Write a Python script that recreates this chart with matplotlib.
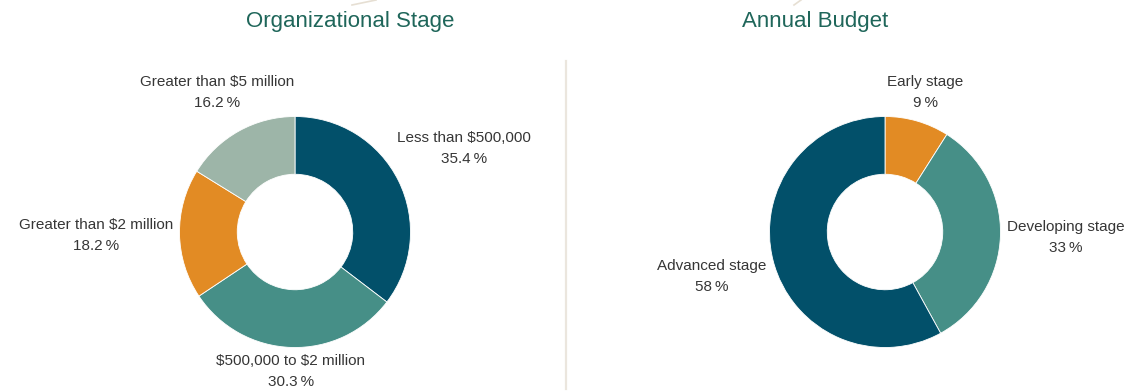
import numpy as np
import matplotlib
matplotlib.use("Agg")
import matplotlib.pyplot as plt
from matplotlib.lines import Line2D

# ---- data ----
left_title = "Organizational Stage"
left_labels = ["Less than \\$500,000", "\\$500,000 to \\$2 million",
               "Greater than \\$2 million", "Greater than \\$5 million"]
left_values = [35.4, 30.3, 18.2, 16.2]
left_pct = ["35.4\u2009%", "30.3\u2009%", "18.2\u2009%", "16.2\u2009%"]

right_title = "Annual Budget"
right_labels = ["Early stage", "Developing stage", "Advanced stage"]
right_values = [9, 33, 58]
right_pct = ["9\u2009%", "33\u2009%", "58\u2009%"]

# ---- styles ----
C_DARK = "#02506a"
C_TEAL = "#468f87"
C_ORANGE = "#e28b24"
C_GREY = "#9db5a8"
left_colors = [C_DARK, C_TEAL, C_ORANGE, C_GREY]
right_colors = [C_ORANGE, C_TEAL, C_DARK]
TITLE_C = "#1f665a"
TEXT_C = "#363636"
FONT = ["Liberation Sans", "DejaVu Sans"]

W, H = 1145, 392
R_PX = 115.5
GAP = 1.056
fig = plt.figure(figsize=(W / 100, H / 100), dpi=100)
fig.patch.set_facecolor("white")
renderer = fig.canvas.get_renderer()


def box_dist(t, dx, dy, hw, hh):
    cx, cy = abs(t * dx), abs(t * dy)
    return np.hypot(max(0.0, cx - hw), max(0.0, cy - hh))


def donut(cx, cy, values, colors, labels, pcts, title, tx):
    r = R_PX
    ax = fig.add_axes([(cx - r) / W, (H - cy - r) / H, 2 * r / W, 2 * r / H])
    total = float(sum(values))
    ax.pie(values, colors=colors, startangle=90, counterclock=False,
           radius=1.0, wedgeprops=dict(width=0.5, edgecolor="white", linewidth=0.6))
    ax.set_xlim(-1, 1)
    ax.set_ylim(-1, 1)
    ax.set_aspect("equal")
    ax.axis("off")
    cum = 0.0
    for v, lab, p in zip(values, labels, pcts):
        mid = (cum + v / 2) / total
        cum += v
        ang = 2 * np.pi * mid
        dx, dy = np.sin(ang), np.cos(ang)
        t = ax.text(0, 0, f"{lab}\n{p}", ha="center", va="center",
                    multialignment="center", fontsize=11, color=TEXT_C,
                    family=FONT, linespacing=1.6)
        bb = t.get_window_extent(renderer)
        hw = bb.width / 2 / r
        hh = bb.height / 2 / r
        lo, hi = 0.0, 5.0
        for _ in range(60):
            m = (lo + hi) / 2
            if box_dist(m, dx, dy, hw, hh) < GAP:
                lo = m
            else:
                hi = m
        t.set_position((dx * hi, dy * hi))
    fig.text(tx / W, 1 - 21 / H, title, ha="center", va="center", fontsize=16,
             color=TITLE_C, family=FONT)


donut(295, 232, left_values, left_colors, left_labels, left_pct, left_title, 350)
donut(885, 232, right_values, right_colors, right_labels, right_pct, right_title, 815)

# divider
fig.add_artist(Line2D([566 / W, 566 / W], [1 - 61 / H, 1 - 389 / H], color="#ebe6de", linewidth=1.6))
# faint decorative strokes at the top
fig.add_artist(Line2D([352 / W, 376 / W], [1 - 5 / H, 1 - 0 / H], color="#e6dfd3", linewidth=1.2))
fig.add_artist(Line2D([794 / W, 801 / W], [1 - 5 / H, 1 - 0 / H], color="#e6dfd3", linewidth=1.2))

fig.savefig("out.png", dpi=100, facecolor="white")
